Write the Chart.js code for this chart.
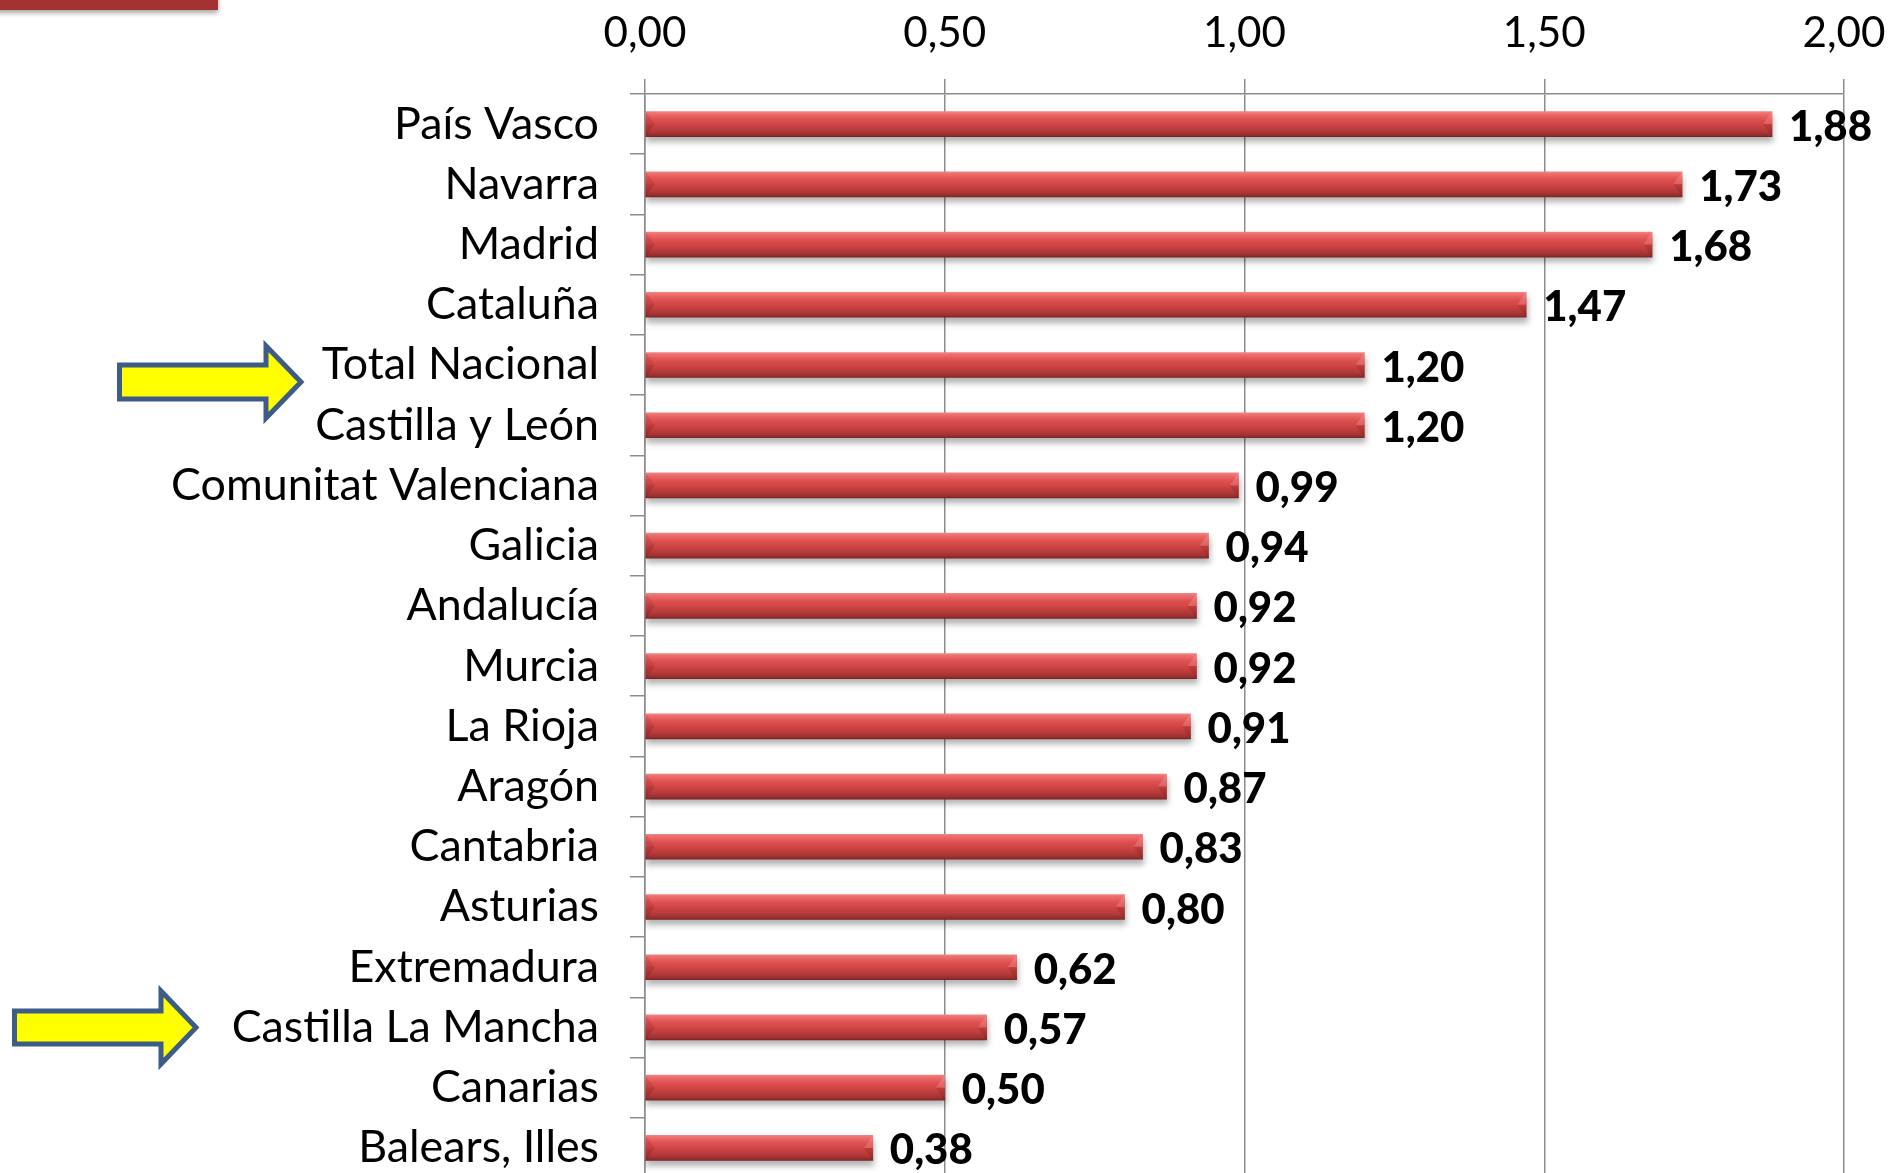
<!DOCTYPE html>
<html>
<head>
<meta charset="utf-8">
<script src="https://cdn.jsdelivr.net/npm/chart.js@4/dist/chart.umd.min.js"></script>
<style>
  html, body { margin: 0; padding: 0; background: #ffffff; overflow: hidden; width: 1893px; height: 1173px; }
  #c { display: block; }
</style>
</head>
<body>
<canvas id="c" width="1893" height="1200"></canvas>
<script>
// ---- data ----
const regions = [
  "País Vasco", "Navarra", "Madrid", "Cataluña", "Total Nacional",
  "Castilla y León", "Comunitat Valenciana", "Galicia", "Andalucía",
  "Murcia", "La Rioja", "Aragón", "Cantabria", "Asturias",
  "Extremadura", "Castilla La Mancha", "Canarias", "Balears, Illes"
];
const values = [1.88, 1.73, 1.68, 1.47, 1.20, 1.20, 0.99, 0.94, 0.92, 0.92, 0.91, 0.87, 0.83, 0.80, 0.62, 0.57, 0.50, 0.38];
const highlighted = ["Total Nacional", "Castilla La Mancha"];
const axisMin = 0, axisMax = 2, axisStep = 0.5;

// ---- styling helpers ----
const FAMILY = "Lato, 'Open Sans', sans-serif";
const VAL_WEIGHT = '900';
const mctx = document.createElement('canvas').getContext('2d');
function fitSize(text, weight, target) {
  mctx.font = weight + ' 100px ' + FAMILY;
  return 100 * target / mctx.measureText(text).width;
}
const catSize = fitSize('Comunitat Valenciana', 'normal', 428);
const tickSize = fitSize('0,00', 'normal', 83);
const valSize = fitSize('1,20', VAL_WEIGHT, 83);
const fmt = v => v.toFixed(2).replace('.', ',');
const GRID = '#8c8c8c';
const BAR_H = 25;

function barGradient(context) {
  const chart = context.chart;
  const ys = chart.scales && chart.scales.y;
  if (!ys || context.dataIndex === undefined) return '#d04444';
  const c = ys.getPixelForValue(context.dataIndex);
  if (!isFinite(c)) return '#d04444';
  const g = chart.ctx.createLinearGradient(0, c - BAR_H / 2, 0, c + BAR_H / 2);
  g.addColorStop(0.00, '#f08484');
  g.addColorStop(0.08, '#ee6e6e');
  g.addColorStop(0.30, '#df5151');
  g.addColorStop(0.55, '#cd4343');
  g.addColorStop(0.80, '#b03838');
  g.addColorStop(0.94, '#952e2e');
  g.addColorStop(1.00, '#7a2424');
  return g;
}

const shadowPlugin = {
  id: 'barShadow',
  beforeDatasetDraw(chart) {
    const ctx = chart.ctx;
    ctx.save();
    ctx.shadowColor = 'rgba(0,0,0,0.30)';
    ctx.shadowBlur = 6;
    ctx.shadowOffsetX = 1;
    ctx.shadowOffsetY = 5;
  },
  afterDatasetDraw(chart) { chart.ctx.restore(); }
};

const bevelAndLabels = {
  id: 'bevelAndLabels',
  afterDatasetsDraw(chart) {
    const ctx = chart.ctx;
    const meta = chart.getDatasetMeta(0);
    meta.data.forEach((el, i) => {
      const top = el.y - el.height / 2, bot = el.y + el.height / 2;
      const b = el.base, x = el.x, w = 9;
      ctx.save();
      ctx.beginPath(); ctx.moveTo(b, top); ctx.lineTo(b + w, el.y); ctx.lineTo(b, el.y); ctx.closePath();
      ctx.fillStyle = 'rgba(120,20,20,0.14)'; ctx.fill();
      ctx.beginPath(); ctx.moveTo(b, bot); ctx.lineTo(b + w, el.y); ctx.lineTo(b, el.y); ctx.closePath();
      ctx.fillStyle = 'rgba(90,10,10,0.18)'; ctx.fill();
      ctx.beginPath(); ctx.moveTo(x, top); ctx.lineTo(x - w, el.y); ctx.lineTo(x, el.y); ctx.closePath();
      ctx.fillStyle = 'rgba(255,200,200,0.22)'; ctx.fill();
      ctx.beginPath(); ctx.moveTo(x, bot); ctx.lineTo(x - w, el.y); ctx.lineTo(x, el.y); ctx.closePath();
      ctx.fillStyle = 'rgba(80,10,10,0.15)'; ctx.fill();
      ctx.fillStyle = '#000000';
      ctx.font = VAL_WEIGHT + ' ' + valSize.toFixed(1) + 'px ' + FAMILY;
      ctx.textAlign = 'left';
      ctx.textBaseline = 'middle';
      ctx.fillText(fmt(values[i]), x + 17, el.y + 3);
      ctx.restore();
    });
  }
};

function drawArrow(ctx, x0, xb, xt, cy, shaftH, headH) {
  ctx.beginPath();
  ctx.moveTo(x0, cy - shaftH);
  ctx.lineTo(xb, cy - shaftH);
  ctx.lineTo(xb, cy - headH);
  ctx.lineTo(xt, cy);
  ctx.lineTo(xb, cy + headH);
  ctx.lineTo(xb, cy + shaftH);
  ctx.lineTo(x0, cy + shaftH);
  ctx.closePath();
  ctx.fillStyle = '#ffff00';
  ctx.fill();
  ctx.lineWidth = 5;
  ctx.lineJoin = 'miter';
  ctx.strokeStyle = '#3d5d88';
  ctx.stroke();
}

const decorations = {
  id: 'decorations',
  afterDraw(chart) {
    const ctx = chart.ctx;
    const ys = chart.scales.y;
    ctx.save();
    ctx.shadowColor = 'rgba(0,0,0,0.35)';
    ctx.shadowBlur = 5;
    ctx.shadowOffsetY = 3;
    ctx.fillStyle = '#a33333';
    ctx.fillRect(-10, -20, 228, 30);
    ctx.restore();
    ctx.save();
    const yTot = ys.getPixelForValue(regions.indexOf(highlighted[0]));
    drawArrow(ctx, 119.5, 266, 301, yTot + 17, 17, 36);
    const yClm = ys.getPixelForValue(regions.indexOf(highlighted[1]));
    drawArrow(ctx, 14.5, 161, 196, yClm, 16.5, 36.5);
    ctx.restore();
  }
};

new Chart(document.getElementById('c'), {
  type: 'bar',
  data: {
    labels: regions,
    datasets: [{
      data: values,
      backgroundColor: barGradient,
      borderWidth: 0,
      barThickness: BAR_H
    }]
  },
  options: {
    indexAxis: 'y',
    responsive: false,
    maintainAspectRatio: false,
    animation: false,
    devicePixelRatio: 1,
    layout: { padding: { left: 0, right: 49, top: 0, bottom: 22 } },
    plugins: { legend: { display: false }, tooltip: { enabled: false } },
    scales: {
      x: {
        position: 'top',
        min: axisMin, max: axisMax,
        afterFit(s) { s.height = 94; s.paddingLeft = 0; s.paddingRight = 0; },
        ticks: {
          stepSize: axisStep,
          callback: v => fmt(v),
          color: '#000000',
          font: { family: FAMILY, size: tickSize, lineHeight: 1.2 },
          padding: 20,
          maxRotation: 0
        },
        grid: { color: GRID, lineWidth: 1.5, tickLength: 15, tickColor: GRID },
        border: { display: true, color: GRID, width: 1.5 }
      },
      y: {
        afterFit(s) { s.width = 645; s.paddingTop = 0; s.paddingBottom = 0; },
        ticks: {
          color: '#000000',
          font: { family: FAMILY, size: catSize, lineHeight: 1.2 },
          padding: 31,
          autoSkip: false
        },
        grid: { drawOnChartArea: false, offset: true, color: GRID, lineWidth: 1.5, tickLength: 15, tickColor: GRID },
        border: { display: true, color: GRID, width: 1.5 }
      }
    }
  },
  plugins: [shadowPlugin, bevelAndLabels, decorations]
});
</script>
</body>
</html>
